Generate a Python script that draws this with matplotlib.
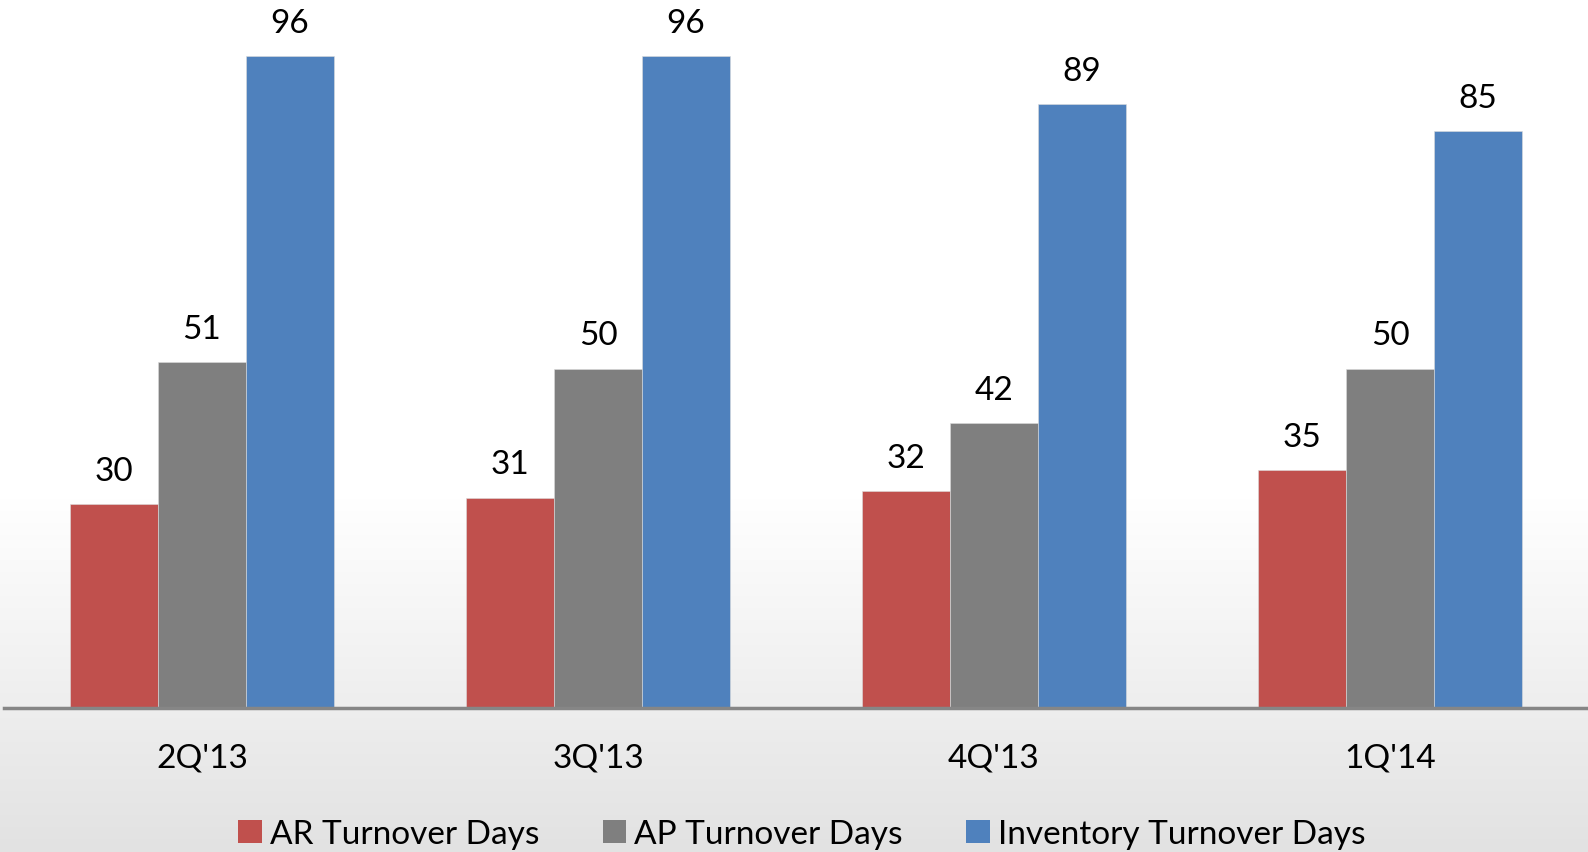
import numpy as np
import matplotlib
matplotlib.use("Agg")
import matplotlib.pyplot as plt
from matplotlib.patches import Patch

quarters = ["2Q'13", "3Q'13", "4Q'13", "1Q'14"]
ar_days = [30, 31, 32, 35]
ap_days = [51, 50, 42, 50]
inv_days = [96, 96, 89, 85]

series = [
    ("AR Turnover Days", ar_days, "#C0504D"),
    ("AP Turnover Days", ap_days, "#7F7F7F"),
    ("Inventory Turnover Days", inv_days, "#4F81BD"),
]

plt.rcParams["font.family"] = ["Lato", "DejaVu Sans"]

W, H = 1588, 853
fig = plt.figure(figsize=(W / 100, H / 100), dpi=100)

# Background: white at the top fading into light grey at the bottom
bg = fig.add_axes([0, 0, 1, 1], zorder=0)
bg.set_axis_off()
rows = np.linspace(0, 1, H)
start = 500 / H
shade = np.where(rows < start, 1.0, 1.0 - (rows - start) / (1 - start) * (29 / 255))
img = np.repeat(shade[:, None], 2, axis=1)
bg.imshow(np.dstack([img, img, img]), aspect="auto", extent=[0, 1, 0, 1], origin="upper")
bg.set_xlim(0, 1)
bg.set_ylim(0, 1)

base_y = 709
ax = fig.add_axes([4 / W, 1 - base_y / H, (W - 4) / W, base_y / H], zorder=1)
ax.patch.set_alpha(0)

x = np.arange(len(quarters))
bw = 88 / 396
for i, (name, vals, color) in enumerate(series):
    bars = ax.bar(x + (i - 1) * bw, vals, width=bw, color=color,
                  edgecolor="#dcdcdc", linewidth=0.4, label=name)
    ax.bar_label(bars, labels=[str(v) for v in vals], padding=13,
                 fontsize=24, color="black")

ax.set_xlim(-0.5, len(quarters) - 0.5)
ax.set_ylim(0, base_y / 6.79)
ax.set_yticks([])
ax.set_xticks(x)
ax.set_xticklabels(quarters, fontsize=24)
ax.tick_params(axis="x", length=0, pad=25)
for s in ["top", "right", "left"]:
    ax.spines[s].set_visible(False)
ax.spines["bottom"].set_color("#868686")
ax.spines["bottom"].set_linewidth(2.5)

handles = [Patch(facecolor=c, edgecolor="none", label=n) for n, _, c in series]
fig.legend(handles=handles, loc="center", bbox_to_anchor=(0.505, 1 - 835 / H),
           ncol=3, frameon=False, fontsize=24, handlelength=0.7, handleheight=0.7,
           handletextpad=0.25, columnspacing=1.9)

fig.savefig("out.png", dpi=100)
